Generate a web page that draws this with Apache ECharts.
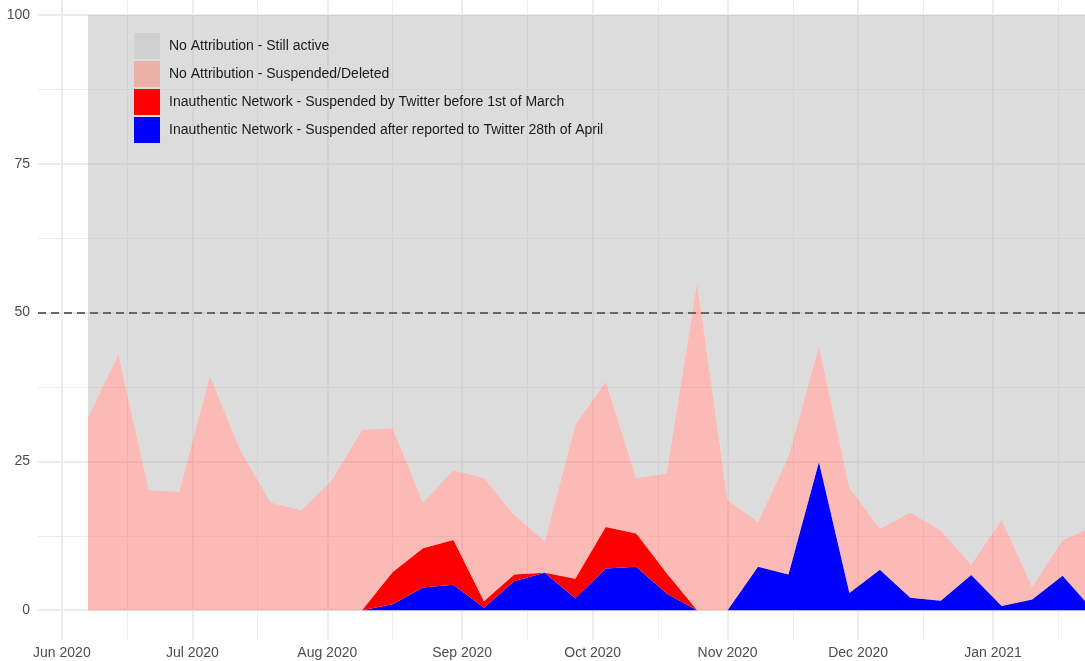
<!DOCTYPE html>
<html>
<head>
<meta charset="utf-8">
<script src="https://cdn.jsdelivr.net/npm/echarts@6/dist/echarts.min.js"></script>
<style>
html,body{margin:0;padding:0;background:#fff;}
#chart{width:1085px;height:661px;}
</style>
</head>
<body>
<div id="chart"></div>
<script>
// weekly samples
var weeks = ['2020-06-07','2020-06-14','2020-06-21','2020-06-28','2020-07-05','2020-07-12','2020-07-19','2020-07-26',
	'2020-08-02','2020-08-09','2020-08-16','2020-08-23','2020-08-30','2020-09-06','2020-09-13','2020-09-20','2020-09-27',
	'2020-10-04','2020-10-11','2020-10-18','2020-10-25','2020-11-01','2020-11-08','2020-11-15','2020-11-22','2020-11-29',
	'2020-12-06','2020-12-13','2020-12-20','2020-12-27','2021-01-03','2021-01-10','2021-01-17','2021-01-24'];

// share (%) of each group per week
var reportedApril = [0,0,0,0,0,0,0,0,0,0,1.0,3.8,4.3,0.4,4.9,6.3,2.0,7.0,7.3,2.8,0,0,7.3,6.0,24.9,2.9,6.8,2.1,1.6,5.9,0.7,1.8,5.8,0];
var beforeMarch = [0,0,0,0,0,0,0,0,0,0,5.4,6.6,7.5,1.1,1.1,0,3.3,7.0,5.6,3.4,0,0,0,0,0,0,0,0,0,0,0,0,0,0];
var noAttrSuspended = [32.4,43.0,20.2,19.9,39.4,26.9,18.1,16.8,21.8,30.3,24.2,7.7,11.7,20.7,10.0,5.3,25.8,24.4,9.3,16.8,55.1,18.5,7.5,19.8,19.5,17.7,6.9,14.3,11.8,1.8,14.5,2.1,6.0,14.0];
var noAttrActive = [67.6,57.0,79.8,80.1,60.6,73.1,81.9,83.2,78.2,69.7,69.4,81.9,76.5,77.8,84.0,88.4,68.9,61.6,77.8,77.0,44.9,81.5,85.2,74.2,55.6,79.4,86.3,83.6,86.6,92.3,84.8,96.1,88.2,86.0];

var yTicks = [0,25,50,75,100];
var yMinor = [12.5,37.5,62.5,87.5];
var monthTicks = ['2020-06-01','2020-07-01','2020-08-01','2020-09-01','2020-10-01','2020-11-01','2020-12-01','2021-01-01'];
var midTicks = ['2020-06-16','2020-07-16','2020-08-16','2020-09-16','2020-10-16','2020-11-16','2020-12-16','2021-01-16'];
var monthNames = ['Jan','Feb','Mar','Apr','May','Jun','Jul','Aug','Sep','Oct','Nov','Dec'];

var names = ['No Attribution - Still active','No Attribution - Suspended/Deleted',
	'Inauthentic Network - Suspended by Twitter before 1st of March',
	'Inauthentic Network - Suspended after reported to Twitter 28th of April'];

function toTime(s){
	var p = s.split('-');
	return new Date(+p[0], +p[1]-1, +p[2]).getTime();
}
function pairs(vals){
	var out = [];
	for(var i=0;i<weeks.length;i++){
		out.push([toTime(weeks[i]), vals[i]]);
	}
	return out;
}

var xMin = new Date(2020,4,26,12,24).getTime();
var xMax = new Date(2021,0,22,3,36).getTime();
var font = "'Liberation Sans', Arial, sans-serif";

function areaSeries(name, vals, color){
	return {
		name:name, type:'line', stack:'all', data:pairs(vals), xAxisIndex:0,
		symbol:'none', showSymbol:false, silent:true,
		lineStyle:{width:0}, areaStyle:{color:color, opacity:1},
		itemStyle:{color:color}, emphasis:{disabled:true}
	};
}

var series = [
	areaSeries(names[3], reportedApril, '#0000ff'),
	areaSeries(names[2], beforeMarch, '#ff0000'),
	areaSeries(names[1], noAttrSuspended, 'rgba(248,118,109,0.5)'),
	areaSeries(names[0], noAttrActive, 'rgba(185,185,185,0.5)')
];
series[3].markLine = {
	silent:true, symbol:'none', label:{show:false},
	lineStyle:{color:'#666666', type:[8,5], width:1.8},
	data:[{yAxis:50}]
};

var chart = echarts.init(document.getElementById('chart'));
chart.setOption({
	animation:false,
	backgroundColor:'#fff',
	grid:{left:38, right:0, top:0, bottom:21, containLabel:false},
	legend:{
		orient:'vertical', left:129, top:28, itemGap:2,
		itemWidth:26, itemHeight:26, icon:'rect',
		selectedMode:false,
		textStyle:{fontFamily:font, fontSize:14, color:'#1a1a1a', padding:[0,0,0,4]},
		data:[
			{name:names[0], itemStyle:{color:'#d0d0d0'}},
			{name:names[1], itemStyle:{color:'#ebb0a8'}},
			{name:names[2], itemStyle:{color:'#ff0000'}},
			{name:names[3], itemStyle:{color:'#0000ff'}}
		]
	},
	xAxis:[{
		// data axis
		type:'time', min:xMin, max:xMax, position:'top', show:false
	},{
		// month labels + major grid
		type:'value', min:xMin, max:xMax, scale:true, position:'bottom',
		axisLine:{show:false}, axisTick:{show:false, customValues:monthTicks.map(toTime)},
		axisLabel:{
			customValues:monthTicks.map(toTime), margin:6,
			fontFamily:font, fontSize:14, color:'#4d4d4d',
			formatter:function(v){ var d=new Date(v); return monthNames[d.getMonth()]+' '+d.getFullYear(); }
		},
		splitLine:{show:true, lineStyle:{color:'#ebebeb', width:1.8}}
	},{
		// minor grid
		type:'value', min:xMin, max:xMax, scale:true, position:'top',
		axisLine:{show:false}, axisTick:{show:false, customValues:midTicks.map(toTime)},
		axisLabel:{show:false},
		splitLine:{show:true, lineStyle:{color:'#ebebeb', width:0.9}}
	}],
	yAxis:[{
		type:'value', min:-5, max:102.5,
		axisLine:{show:false}, axisTick:{show:false, customValues:yTicks},
		axisLabel:{customValues:yTicks, margin:8, fontFamily:font, fontSize:14, color:'#4d4d4d'},
		splitLine:{show:true, lineStyle:{color:'#ebebeb', width:1.8}}
	},{
		type:'value', min:-5, max:102.5, position:'left',
		axisLine:{show:false}, axisTick:{show:false, customValues:yMinor},
		axisLabel:{show:false},
		splitLine:{show:true, lineStyle:{color:'#ebebeb', width:0.9}}
	}],
	series:series
});
</script>
</body>
</html>
